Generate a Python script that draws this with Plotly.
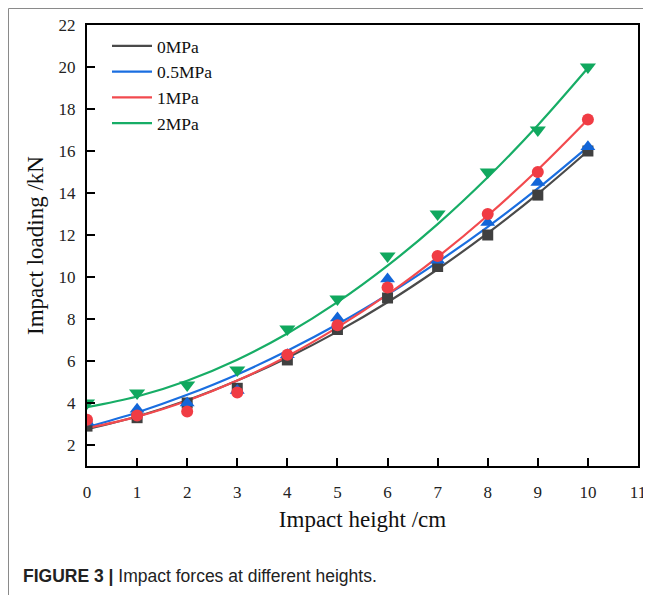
import plotly.graph_objects as go

# ---- data ----
heights = [0, 1, 2, 3, 4, 5, 6, 7, 8, 9, 10]
series_names = ["0MPa", "0.5MPa", "1MPa", "2MPa"]

load_0mpa = [2.9, 3.3, 4.0, 4.7, 6.05, 7.5, 9.0, 10.5, 12.0, 13.9, 16.0]
load_05mpa = [3.1, 3.7, 4.0, 4.6, 6.3, 8.05, 9.9, 10.8, 12.6, 14.5, 16.2]
load_1mpa = [3.2, 3.4, 3.6, 4.5, 6.3, 7.7, 9.5, 11.0, 13.0, 15.0, 17.5]
load_2mpa = [4.0, 4.48, 4.86, 5.57, 7.52, 8.95, 11.0, 13.0, 15.0, 17.0, 20.0]

# fitted curves at each integer height
fit_0mpa = [2.75, 3.36, 4.13, 5.07, 6.16, 7.40, 8.80, 10.37, 12.09, 13.96, 16.0]
fit_05mpa = [2.85, 3.55, 4.39, 5.36, 6.49, 7.75, 9.16, 10.71, 12.39, 14.22, 16.2]
fit_1mpa = [2.8, 3.35, 4.11, 5.07, 6.23, 7.6, 9.17, 10.95, 12.93, 15.11, 17.5]
fit_2mpa = [3.8, 4.31, 5.06, 6.06, 7.31, 8.8, 10.54, 12.52, 14.75, 17.23, 19.95]

x_ticks = [0, 1, 2, 3, 4, 5, 6, 7, 8, 9, 10, 11]
y_ticks = [2, 4, 6, 8, 10, 12, 14, 16, 18, 20, 22]

# ---- style ----
line_colors = ["#4a4a4a", "#1a6ee0", "#f24a4e", "#17ad66"]
marker_colors = ["#404040", "#1265d8", "#f03c44", "#10a85e"]
symbols = ["square", "triangle-up", "circle", "triangle-down"]
marker_sizes = [11, 13, 12, 14]

points = [load_0mpa, load_05mpa, load_1mpa, load_2mpa]
fits = [fit_0mpa, fit_05mpa, fit_1mpa, fit_2mpa]

fig = go.Figure()
for name, fy, col in zip(series_names, fits, line_colors):
    fig.add_trace(go.Scatter(
        x=heights, y=fy, mode="lines", name=name,
        line=dict(color=col, width=2.2, shape="spline"),
    ))
for name, py, col, sym, sz in zip(series_names, points, marker_colors, symbols, marker_sizes):
    fig.add_trace(go.Scatter(
        x=heights, y=py, mode="markers", name=name, showlegend=False,
        marker=dict(color=col, symbol=sym, size=sz, line=dict(width=0)),
    ))

# the page body adds an 8px offset; work in page pixels and convert
OFF = 8
W, H = 651 - OFF, 595 - OFF
plot_left, plot_right, plot_top, plot_bottom = 87, 638, 25, 466
L = plot_left - OFF
R = W - (plot_right - OFF)
T = plot_top - OFF
B = H - (plot_bottom - OFF)
pw, ph = W - L - R, H - T - B

def px_x(px):
    return (px - plot_left) / pw

def px_y(py):
    return (plot_bottom - py) / ph

serif = "Liberation Serif, Times New Roman, serif"

fig.update_layout(
    width=W, height=H,
    margin=dict(l=L, r=R, t=T, b=B, autoexpand=False),
    paper_bgcolor="white", plot_bgcolor="white",
    showlegend=True,
    legend=dict(
        x=px_x(107), y=px_y(28), xanchor="left", yanchor="top",
        font=dict(family=serif, size=17.5, color="#111"),
        bgcolor="rgba(0,0,0,0)", tracegroupgap=0,
        itemwidth=40,
    ),
    shapes=[
        dict(type="line", xref="paper", yref="paper",
             x0=px_x(8.5), x1=px_x(651), y0=px_y(8.5), y1=px_y(8.5),
             line=dict(color="#8a8a8a", width=1)),
        dict(type="line", xref="paper", yref="paper",
             x0=px_x(8.5), x1=px_x(8.5), y0=px_y(8.5), y1=px_y(595),
             line=dict(color="#8a8a8a", width=1)),
    ],
    annotations=[
        dict(xref="paper", yref="paper", x=px_x(21), y=px_y(576),
             xanchor="left", yanchor="middle", showarrow=False,
             text="<b>FIGURE 3 |</b> Impact forces at different heights.",
             font=dict(family="Liberation Sans, Arial, sans-serif", size=17.5, color="#222")),
    ],
)

fig.update_xaxes(
    range=[0, 11], tickmode="array", tickvals=x_ticks,
    ticks="inside", ticklen=8, tickwidth=2, tickcolor="black",
    showline=True, linecolor="black", linewidth=2, mirror=True,
    showgrid=False, zeroline=False, automargin=False,
    tickfont=dict(family=serif, size=17, color="#222"),
    ticklabelstandoff=10,
    title=dict(text="Impact height /cm", font=dict(family=serif, size=23, color="#111"), standoff=9),
)
fig.update_yaxes(
    range=[1, 22], tickmode="array", tickvals=y_ticks,
    ticks="inside", ticklen=8, tickwidth=2, tickcolor="black",
    showline=True, linecolor="black", linewidth=2, mirror=True,
    showgrid=False, zeroline=False, automargin=False,
    tickfont=dict(family=serif, size=17, color="#222"),
    ticklabelstandoff=6,
    title=dict(text="Impact loading /kN", font=dict(family=serif, size=23, color="#111"), standoff=9),
)

fig.write_html("out.html")
